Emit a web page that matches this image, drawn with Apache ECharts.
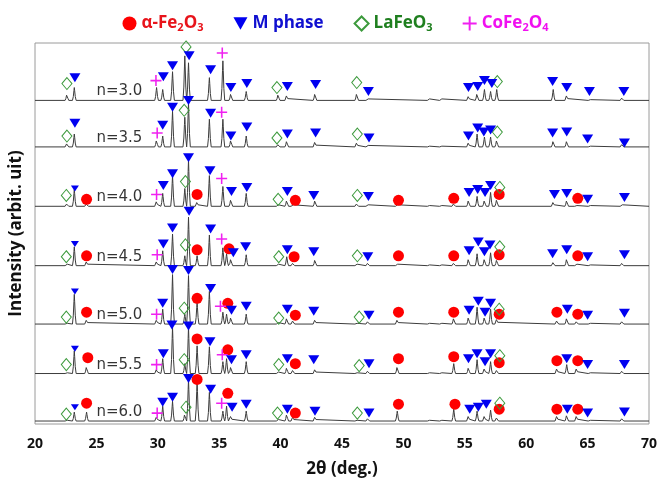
<!DOCTYPE html>
<html>
<head>
<meta charset="utf-8">
<script src="https://cdn.jsdelivr.net/npm/echarts@6/dist/echarts.min.js"></script>
<style>html,body{margin:0;background:#fff}#chart{width:671px;height:483px}</style>
</head>
<body>
<div id="chart"></div>
<script>
// samples, top to bottom, and where each trace sits on the stacked axis
var samples = ['n=3.0', 'n=3.5', 'n=4.0', 'n=4.5', 'n=5.0', 'n=5.5', 'n=6.0'];
var offsets = [327, 280, 220, 160, 101, 51, 3];

// reflection positions (2θ)
var peakPos = [22.6, 23.2, 24.2, 29.9, 30.4, 31.2, 32.2, 32.5, 33.2, 34.2, 35.3, 35.6, 35.95, 37.2,
  39.8, 40.5, 41.0, 42.8, 46.2, 47.1, 49.5, 52.1, 53.1, 54.1, 55.3, 56.0, 56.6, 57.1, 57.6,
  62.2, 62.5, 63.3, 64.1, 65.2, 67.8];

// peak heights above each baseline, same order as peakPos
var h30 = [7, 13, 0, 13, 11, 29, 45, 38, 0, 23, 40, 0, 8, 9, 7, 6, 0, 8, 8, 2, 0, 2, 2, 0, 5, 8, 11, 9, 11, 11, 0, 6, 0, 1, 3];
var h35 = [4, 13, 0, 8, 11, 36, 30, 45, 0, 28, 28, 0, 8, 11, 3, 7, 0, 6, 5, 2, 0, 1, 1, 0, 5, 13, 10, 10, 8, 7, 0, 7, 0, 1, 3];
var h40 = [3, 17, 3, 6, 13, 31, 18, 47, 5, 31, 20, 0, 8, 13, 2, 7, 2, 7, 3, 2, 2, 1, 1, 3, 7, 10, 7, 14, 8, 5, 0, 7, 1, 1, 2];
var h45 = [2, 19, 5, 5, 15, 32, 10, 49, 10, 31, 18, 12, 8, 11, 2, 9, 3, 7, 2, 3, 2, 1, 1, 3, 8, 12, 8, 13, 7, 4, 0, 8, 2, 1, 3];
var h50 = [1, 30, 5, 5, 15, 50, 10, 49, 22, 33, 12, 10, 8, 10, 2, 7, 4, 5, 1, 3, 5, 1, 1, 7, 8, 17, 8, 15, 6, 0, 4, 7, 3, 1, 3];
var h55 = [1, 23, 8, 5, 15, 47, 10, 47, 28, 27, 12, 15, 8, 12, 2, 7, 4, 5, 1, 3, 8, 1, 1, 10, 7, 14, 6, 12, 4, 0, 6, 9, 6, 1, 3];
var h60 = [1, 9, 9, 5, 15, 20, 8, 42, 40, 29, 10, 15, 6, 10, 2, 8, 5, 5, 1, 3, 10, 1, 1, 12, 6, 10, 6, 11, 4, 0, 6, 7, 6, 1, 3];
var heights = [h30, h35, h40, h45, h50, h55, h60];

// phase marks: [sample index, 2θ, height above baseline]
var hematiteMarks = [
  [2, 24.2, 7], [2, 33.2, 12], [2, 41.2, 6], [2, 49.6, 6], [2, 54.1, 8], [2, 57.8, 12], [2, 64.2, 8],
  [3, 24.2, 10], [3, 33.2, 16], [3, 35.8, 17], [3, 41.1, 9], [3, 49.6, 10], [3, 54.1, 10], [3, 57.8, 11], [3, 64.2, 10],
  [4, 24.2, 12], [4, 33.2, 26], [4, 35.7, 21], [4, 41.2, 9], [4, 49.6, 12], [4, 54.1, 12], [4, 57.8, 10], [4, 62.5, 12], [4, 64.2, 10],
  [5, 24.3, 16], [5, 33.2, 35], [5, 35.7, 24], [5, 41.2, 10], [5, 49.6, 15], [5, 54.1, 17], [5, 57.8, 11], [5, 62.5, 13], [5, 64.2, 13],
  [6, 24.2, 18], [6, 33.2, 42], [6, 35.7, 28], [6, 41.2, 8], [6, 49.6, 17], [6, 54.2, 17], [6, 57.8, 12], [6, 62.5, 12], [6, 64.2, 12]
];
var mPhaseMarks = [
  [0, 23.25, 23], [0, 30.45, 24], [0, 31.2, 35], [0, 32.55, 45], [0, 34.3, 31], [0, 35.95, 13], [0, 37.25, 17], [0, 40.55, 14], [0, 42.85, 16],
  [0, 47.15, 9], [0, 55.3, 13], [0, 56.05, 14], [0, 56.6, 20], [0, 57.2, 17], [0, 62.15, 19], [0, 63.3, 13], [0, 65.15, 9], [0, 67.95, 9],
  [1, 23.25, 24], [1, 30.4, 22], [1, 31.2, 40], [1, 32.5, 47], [1, 34.3, 34], [1, 35.95, 11], [1, 37.25, 20], [1, 40.55, 13], [1, 42.85, 14],
  [1, 47.2, 9], [1, 55.3, 11], [1, 56.05, 19], [1, 56.55, 15], [1, 57.1, 17], [1, 62.15, 14], [1, 63.3, 15], [1, 65.0, 8], [1, 68.0, 4],
  [2, 23.25, 18], [2, 30.45, 21], [2, 31.2, 33], [2, 32.5, 49], [2, 34.25, 36], [2, 36.0, 15], [2, 37.25, 19], [2, 40.55, 15], [2, 42.7, 11],
  [2, 47.15, 10], [2, 55.35, 14], [2, 56.05, 17], [2, 56.65, 14], [2, 57.1, 21], [2, 62.3, 12], [2, 63.3, 13], [2, 65.0, 7], [2, 68.0, 9],
  [3, 23.25, 22], [3, 30.45, 22], [3, 31.2, 38], [3, 32.55, 55], [3, 34.3, 37], [3, 36.15, 13], [3, 37.15, 19], [3, 40.55, 16], [3, 42.7, 14],
  [3, 47.1, 9], [3, 55.35, 15], [3, 56.1, 24], [3, 56.6, 14], [3, 57.05, 21], [3, 62.15, 12], [3, 63.3, 16], [3, 65.0, 9], [3, 68.0, 11],
  [4, 23.25, 33], [4, 30.4, 21], [4, 31.2, 55], [4, 32.5, 54], [4, 34.3, 36], [4, 36.0, 14], [4, 37.2, 18], [4, 40.55, 15], [4, 42.7, 13],
  [4, 47.2, 9], [4, 55.35, 14], [4, 56.1, 23], [4, 56.65, 12], [4, 57.1, 21], [4, 63.35, 15], [4, 65.0, 9], [4, 68.0, 11],
  [5, 23.25, 25], [5, 30.45, 20], [5, 31.15, 49], [5, 32.5, 48], [5, 34.25, 32], [5, 36.0, 14], [5, 37.2, 19], [5, 40.55, 15], [5, 42.7, 14],
  [5, 47.2, 10], [5, 55.3, 15], [5, 56.0, 20], [5, 56.65, 12], [5, 57.1, 20], [5, 63.3, 15], [5, 65.0, 9], [5, 68.0, 9],
  [6, 23.25, 14], [6, 30.4, 19], [6, 31.2, 24], [6, 32.5, 43], [6, 34.3, 32], [6, 36.05, 14], [6, 37.2, 17], [6, 40.55, 12], [6, 42.8, 10],
  [6, 47.2, 8], [6, 55.4, 12], [6, 56.1, 14], [6, 56.75, 17], [6, 63.35, 12], [6, 65.0, 8], [6, 68.0, 9]
];
var lafeo3Marks = [
  [0, 22.6, 17], [0, 32.3, 54], [0, 39.7, 13], [0, 46.2, 18], [0, 57.65, 19],
  [1, 22.6, 11], [1, 32.15, 37], [1, 39.7, 9], [1, 46.25, 13], [1, 57.65, 15],
  [2, 22.55, 11], [2, 32.25, 25], [2, 39.8, 7], [2, 46.25, 11], [2, 57.85, 19],
  [3, 22.55, 9], [3, 32.25, 21], [3, 39.85, 9], [3, 46.25, 10], [3, 57.85, 19],
  [4, 22.55, 7], [4, 32.15, 16], [4, 39.85, 6], [4, 46.4, 7], [4, 57.8, 15],
  [5, 22.55, 9], [5, 32.15, 14], [5, 39.85, 9], [5, 46.4, 8], [5, 57.85, 18],
  [6, 22.55, 7], [6, 32.3, 14], [6, 39.75, 8], [6, 46.25, 8], [6, 57.85, 18]
];
var cofe2o4Marks = [
  [0, 29.85, 20], [0, 35.25, 48], [1, 29.95, 14], [1, 35.2, 35], [2, 29.9, 12], [2, 35.2, 28],
  [3, 29.95, 11], [3, 35.2, 27], [4, 29.9, 10], [4, 35.1, 18], [5, 29.9, 9], [5, 35.25, 19],
  [6, 29.95, 8], [6, 35.2, 18]
];

var xTicks = [20, 25, 30, 35, 40, 45, 50, 55, 60, 65, 70];

var chartDom = document.getElementById('chart');
var myChart = echarts.init(chartDom);
var option;

// turn a row of peak heights into a trace of narrow peaks on a flat baseline
function buildTrace(hs, base) {
  var pts = [[xTicks[0], base]];
  peakPos.forEach(function (p, i) {
    var h = hs[i];
    if (!h) return;
    pts.push([p - 0.15, base], [p - 0.08, base + 0.3 * h], [p - 0.03, base + 0.75 * h], [p, base + h],
      [p + 0.03, base + 0.75 * h], [p + 0.08, base + 0.3 * h], [p + 0.15, base]);
  });
  pts.push([xTicks[xTicks.length - 1], base]);
  return pts;
}

function placeMarks(marks) {
  return marks.map(function (m) {
    return [m[1], offsets[m[0]] + m[2]];
  });
}

var traceSeries = samples.map(function (s, i) {
  return {
    type: 'line',
    data: buildTrace(heights[i], offsets[i]),
    showSymbol: false,
    silent: true,
    lineStyle: { color: '#3c3c3c', width: 1 },
    z: 1
  };
});

var TRI_DOWN = 'path://M0,0L10,0L5,9Z';
var PLUS = 'path://M4.3,0H5.7V4.3H10V5.7H5.7V10H4.3V5.7H0V4.3H4.3Z';
var subStyle = { fontSize: 11, fontWeight: 'bold', fontFamily: 'Open Sans', verticalAlign: 'bottom', padding: [9, 0, 0, 0] };

option = {
  animation: false,
  grid: { left: 32, right: 22, top: 43, bottom: 55, show: true, borderColor: '#9a9a9a', borderWidth: 1 },
  legend: {
    top: 10,
    left: 'center',
    itemGap: 30,
    itemWidth: 14,
    itemHeight: 14,
    data: ['α-Fe2O3', 'M phase', 'LaFeO3', 'CoFe2O4'],
    formatter: function (name) {
      if (name === 'α-Fe2O3') return '{r|α-Fe}{rs|2}{r|O}{rs|3}';
      if (name === 'M phase') return '{b|M phase}';
      if (name === 'LaFeO3') return '{g|LaFeO}{gs|3}';
      return '{m|CoFe}{ms|2}{m|O}{ms|4}';
    },
    textStyle: {
      rich: {
        r: { color: '#e8141b', fontSize: 17, fontWeight: 'bold', fontFamily: 'Open Sans' },
        rs: Object.assign({ color: '#e8141b' }, subStyle),
        b: { color: '#1010d0', fontSize: 17, fontWeight: 'bold', fontFamily: 'Open Sans' },
        g: { color: '#1f7f1f', fontSize: 17, fontWeight: 'bold', fontFamily: 'Open Sans' },
        gs: Object.assign({ color: '#1f7f1f' }, subStyle),
        m: { color: '#f010f0', fontSize: 17, fontWeight: 'bold', fontFamily: 'Open Sans' },
        ms: Object.assign({ color: '#f010f0' }, subStyle)
      }
    }
  },
  xAxis: {
    type: 'value',
    min: 20,
    max: 70,
    interval: 5,
    name: '2θ (deg.)',
    nameLocation: 'middle',
    nameGap: 37,
    nameTextStyle: { fontSize: 17, fontWeight: 'bold', color: '#111', fontFamily: 'Open Sans' },
    axisLine: { show: false },
    axisTick: { show: false },
    splitLine: { show: false },
    axisLabel: { margin: 13, fontSize: 14, fontWeight: 'bold', color: '#111', fontFamily: 'Open Sans' }
  },
  yAxis: {
    type: 'value',
    min: 0,
    max: 385,
    name: 'Intensity (arbit. uit)',
    nameLocation: 'middle',
    nameGap: 10,
    nameTextStyle: { fontSize: 17, fontWeight: 'bold', color: '#111', fontFamily: 'Open Sans' },
    axisLine: { show: false },
    axisTick: { show: false },
    axisLabel: { show: false },
    splitLine: { show: false }
  },
  series: traceSeries.concat([
    {
      name: 'α-Fe2O3',
      type: 'scatter',
      symbol: 'circle',
      symbolSize: 11,
      itemStyle: { color: '#ff0000', opacity: 1 },
      data: placeMarks(hematiteMarks),
      z: 3
    },
    {
      name: 'M phase',
      type: 'scatter',
      symbol: TRI_DOWN,
      // the marks on the narrow 23.2° line are drawn smaller from n=4.0 down
      symbolSize: function (val) { return (val[0] < 24 && val[1] < 240) ? [8, 6] : [11, 9]; },
      itemStyle: { color: '#0000f0', opacity: 1 },
      data: placeMarks(mPhaseMarks),
      z: 4
    },
    {
      name: 'LaFeO3',
      type: 'scatter',
      symbol: 'diamond',
      symbolSize: [10, 12],
      itemStyle: { color: 'rgba(255,255,255,0)', borderColor: '#3c9a3c', borderWidth: 1, opacity: 1 },
      data: placeMarks(lafeo3Marks),
      z: 3
    },
    {
      name: 'CoFe2O4',
      type: 'scatter',
      symbol: PLUS,
      symbolSize: 11,
      itemStyle: { color: '#f020f0', opacity: 1 },
      data: placeMarks(cofe2o4Marks),
      z: 3
    },
    {
      type: 'scatter',
      symbolSize: 0,
      silent: true,
      data: samples.map(function (s, i) { return [25.0, offsets[i] + 9, s]; }),
      label: {
        show: true,
        position: 'right',
        distance: 0,
        formatter: function (p) { return p.value[2]; },
        fontSize: 15,
        color: '#000',
        fontFamily: 'DejaVu Sans'
      },
      z: 5
    }
  ])
};

myChart.setOption(option);
</script>
</body>
</html>
